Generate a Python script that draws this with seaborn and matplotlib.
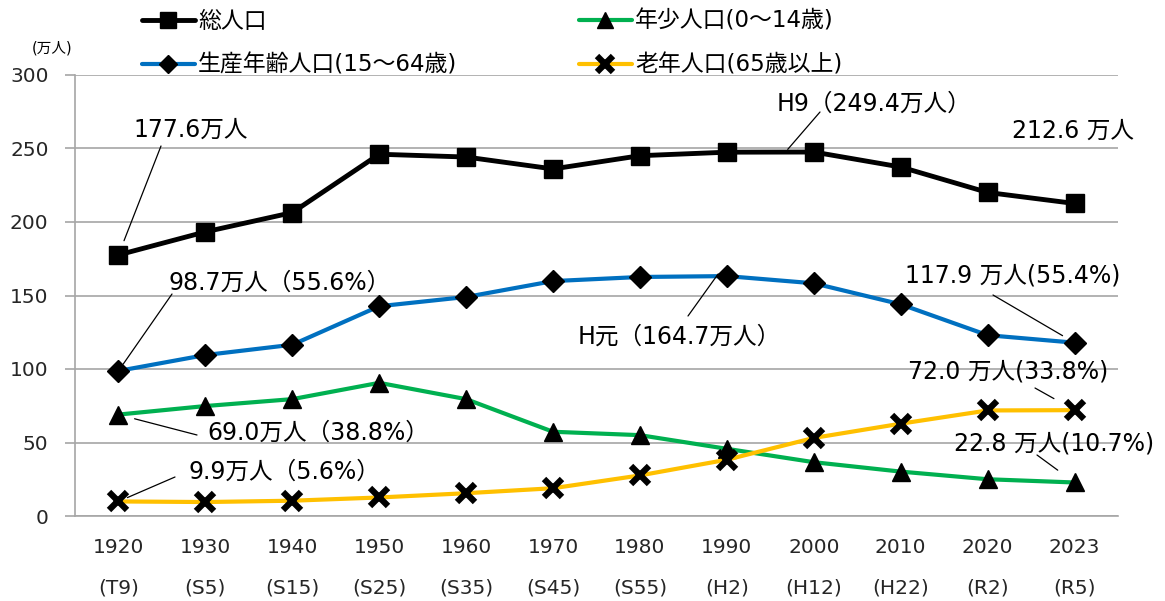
import matplotlib
matplotlib.use('Agg')
import matplotlib.pyplot as plt
import seaborn as sns
from matplotlib.lines import Line2D

# data (万人)
years = ['1920', '1930', '1940', '1950', '1960', '1970', '1980', '1990', '2000', '2010', '2020', '2023']
eras = ['(T9)', '(S5)', '(S15)', '(S25)', '(S35)', '(S45)', '(S55)', '(H2)', '(H12)', '(H22)', '(R2)', '(R5)']
total = [177.6, 193.3, 206.4, 246.1, 244.2, 236.1, 245.1, 247.5, 247.6, 237.4, 220.1, 212.6]
working = [98.7, 109.5, 116.5, 142.7, 149.0, 159.8, 162.6, 163.2, 158.3, 144.0, 123.0, 117.9]
youth = [69.0, 74.8, 79.5, 90.6, 79.5, 57.3, 55.0, 45.7, 36.6, 30.2, 25.0, 22.8]
elderly = [9.9, 9.5, 10.4, 12.6, 15.5, 18.9, 27.6, 38.3, 53.1, 62.8, 71.8, 72.0]
names = ['総人口', '生産年齢人口(15～64歳)', '年少人口(0～14歳)', '老年人口(65歳以上)']

sns.set_theme(style='white')
plt.rcParams['font.family'] = ['DejaVu Sans', 'Noto Sans CJK JP']
plt.rcParams['text.color'] = 'black'

W, H = 1165, 601
fig = plt.figure(figsize=(W / 100, H / 100), dpi=100)
ax = fig.add_axes([75 / W, 85 / H, 1043 / W, 441 / H])

x = list(range(len(years)))
styles = [
    (total, 'black', 's', 13, 3.5, 1),
    (working, '#0070C0', 'D', 11, 3.0, 1),
    (youth, '#00B050', '^', 13, 3.0, 1),
    (elderly, '#FFC000', 'x', 13, 3.0, 4.5),
]
handles = []
for (vals, col, mk, ms, lw, mew), name in zip(styles, names):
    sns.lineplot(x=x, y=vals, ax=ax, color=col, lw=lw, marker=mk, markersize=ms,
                 markerfacecolor='black', markeredgecolor='black', markeredgewidth=mew)
    handles.append(Line2D([], [], color=col, lw=lw, marker=mk, markersize=ms * 0.85,
                          markerfacecolor='black', markeredgecolor='black', markeredgewidth=mew))

grid_c = '#a6a6a6'
ax.set_xlim(-0.5, len(years) - 0.5)
ax.set_ylim(0, 300)
ax.set_yticks(range(0, 301, 50))
ax.yaxis.grid(True, color=grid_c, lw=1.2)
ax.set_axisbelow(True)
ax.set_xticks(x)
ax.set_xticklabels([f'{y}\n{e}' for y, e in zip(years, eras)], linespacing=2.45)
ax.set_xticks([i - 0.5 for i in range(len(years) + 1)], minor=True)
ax.tick_params(axis='x', which='major', length=0, pad=16, labelsize=14.5)
ax.tick_params(axis='x', which='minor', length=7, width=1.2, color=grid_c, direction='out')
ax.tick_params(axis='y', length=7, width=1.2, color=grid_c, pad=12, labelsize=14.5, left=True)
for s in ['top', 'right']:
    ax.spines[s].set_visible(False)
for s in ['left', 'bottom']:
    ax.spines[s].set_color(grid_c)
    ax.spines[s].set_linewidth(1.2)
ax.set_xlabel('')
ax.set_ylabel('')

fig.text(52 / W, 1 - 48 / H, '(万人)', fontsize=10.5, ha='center', va='center')

fig.legend(handles, names, ncol=2, loc='upper left', bbox_to_anchor=(142 / W, 1 - 10 / H),
           frameon=False, fontsize=16.5, handlelength=2.3, handletextpad=0.15,
           columnspacing=5.3, labelspacing=0.9, borderpad=0, borderaxespad=0)

# labels with leader lines: text, left px, centre y px, line start px, anchor, shrink
notes = [
    ('177.6万人', 133, 130, (161, 146), (0, total[0]), 11),
    ('98.7万人（55.6%）', 168, 283, (172, 294), (0, working[0]), 6),
    ('69.0万人（38.8%）', 207, 433, (197, 435), (0, youth[0]), 12),
    ('9.9万人（5.6%）', 188, 472, (175, 477), (0, elderly[0]), 7),
    ('H9（249.4万人）', 777, 104, (820, 112), (7.7, 249.4), 0),
    ('212.6 万人', 1012, 131, None, None, 0),
    ('H元（164.7万人）', 578, 337, (688, 316), (6.9, 164.7), 0),
    ('117.9 万人(55.4%)', 905, 276, (993, 295), (11, working[11]), 10),
    ('72.0 万人(33.8%)', 908, 371, (1035, 388), (11, elderly[11]), 17),
    ('22.8 万人(10.7%)', 954, 443, (1037, 455), (11, youth[11]), 15),
]
for txt, tx, ty, start, pt, sb in notes:
    fig.text(tx / W, 1 - ty / H, txt, fontsize=17, ha='left', va='center')
    if start is not None:
        ax.annotate('', xy=pt, xycoords='data',
                    xytext=(start[0] / W, 1 - start[1] / H), textcoords='figure fraction',
                    arrowprops=dict(arrowstyle='-', color='black', lw=0.9,
                                    shrinkA=0, shrinkB=sb))

fig.savefig('out.png', dpi=100)
